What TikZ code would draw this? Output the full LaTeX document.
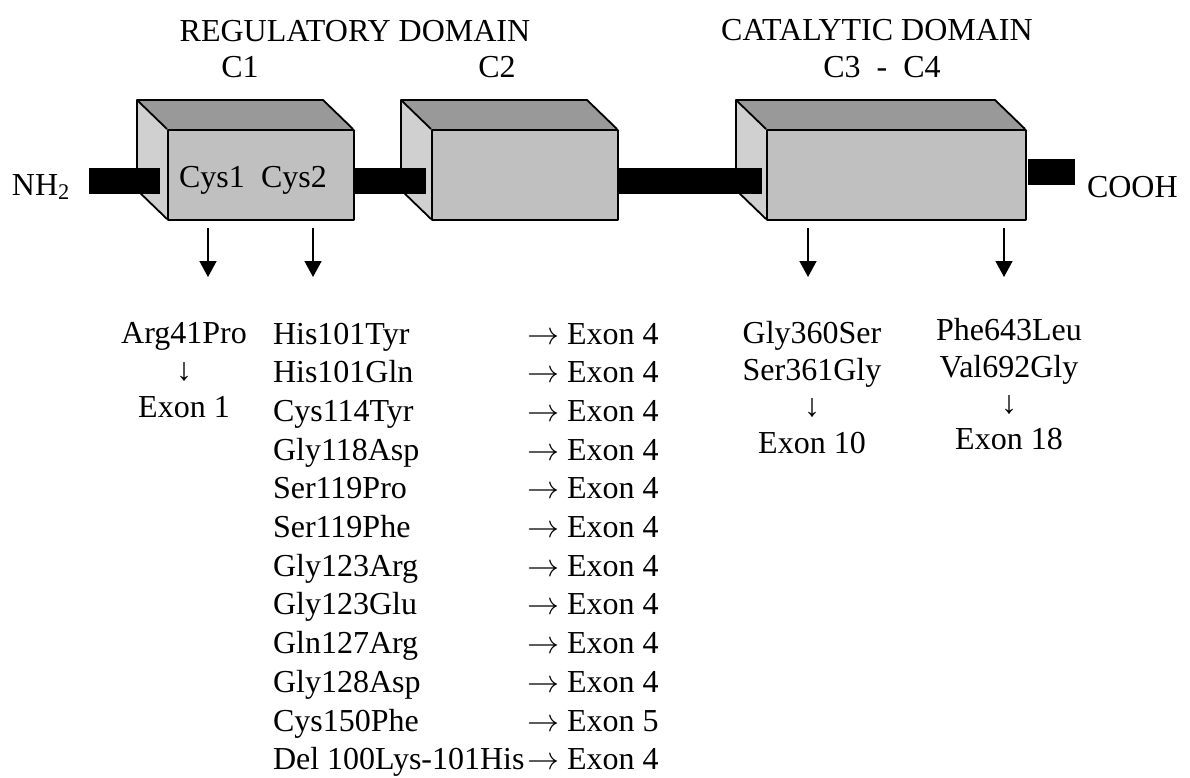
\RequirePackage{fix-cm}
\documentclass[tikz,border=0pt]{standalone}
\usepackage{fontspec}
\setmainfont{Liberation Serif}
\usetikzlibrary{arrows.meta}

\definecolor{topface}{RGB}{153,153,153}
\definecolor{sideface}{RGB}{208,208,208}
\definecolor{frontface}{RGB}{192,192,192}

\begin{document}
\begin{tikzpicture}[x=1pt,y=-1pt,
  lbl/.style={font=\fontsize{32}{38}\selectfont, inner sep=0pt, outer sep=0pt},
  face/.style={draw=black, line width=1.8pt, line join=round},
  front/.style={face, fill=frontface, rectangle, inner sep=0pt, anchor=north west},
  linker/.style={fill=black},
  ptr/.style={line width=1.6pt, -{Triangle[width=17pt,length=16pt]}}
]
\useasboundingbox (0,0) rectangle (1190,778);

% three domain blocks: top and left faces, then front face as a node
\foreach \nm/\xl/\xr in {c1/167/353, c2/431/617, c3/766/1025}{
  \fill[topface] (\xl-30,100) -- (\xr-30,100) -- (\xr,129) -- (\xl,129) -- cycle;
  \fill[sideface] (\xl-30,100) -- (\xl,129) -- (\xl,219) -- (\xl-30,190) -- cycle;
  \draw[face] (\xl,129) -- (\xl-30,100) -- (\xr-30,100) -- (\xr,129);
  \draw[face] (\xl-30,100) -- (\xl-30,190) -- (\xl,219);
  \node[front, minimum width=\xr pt-\xl pt, minimum height=90pt] (\nm) at (\xl,129) {};
}

% linker segments of the chain
\fill[linker] (89,168) rectangle (160,194);
\fill[linker] (354,168) rectangle (426,194);
\fill[linker] (618,168) rectangle (762,194);
\fill[linker] (1028,159) rectangle (1075,185);

% headings
\node[lbl, anchor=base] (reg) at (355,42) {REGULATORY DOMAIN};
\node[lbl, anchor=base] (cat) at (877,41) {CATALYTIC DOMAIN};
\node[lbl, anchor=base] (l1) at (240,78) {C1};
\node[lbl, anchor=base] (l2) at (497,78) {C2};
\node[lbl, anchor=base] (l3) at (882,78) {C3~~-~~C4};

% termini
\node[lbl, anchor=base west] (nterm) at (12,195) {NH\textsubscript{2}};
\node[lbl, anchor=base west] (cterm) at (1087,197) {COOH};

% cysteine-rich motifs
\node[lbl, anchor=base west] (cys1) at (179,187) {Cys1};
\node[lbl, anchor=base west] (cys2) at (261,187) {Cys2};

% pointers below the blocks
\foreach \k/\x in {1/208, 2/313, 3/808, 4/1004}{
  \coordinate (p\k s) at (\x,228);
  \coordinate (p\k e) at (\x,277);
  \draw[ptr] (p\k s) -- (p\k e);
}

% C1 mutation
\node[lbl, anchor=base] (m1a) at (184,343) {Arg41Pro};
\node[lbl, anchor=base] (m1b) at (184,380) {↓};
\node[lbl, anchor=base] (m1c) at (184,417) {Exon 1};

% C1 cysteine-region mutations with their exons
\foreach \i/\mut/\ex in {0/His101Tyr/4, 1/His101Gln/4, 2/Cys114Tyr/4, 3/Gly118Asp/4,
  4/Ser119Pro/4, 5/Ser119Phe/4, 6/Gly123Arg/4, 7/Gly123Glu/4, 8/Gln127Arg/4,
  9/Gly128Asp/4, 10/Cys150Phe/5, 11/Del 100Lys-101His/4}{
  \node[lbl, anchor=base west] (mut\i) at (273,344+38.7*\i) {\mut};
  \node[lbl, anchor=base west] (ex\i) at (527,344+38.7*\i) {$\rightarrow$ Exon \ex};
}

% catalytic domain mutations
\node[lbl, anchor=base] (m3a) at (812,343) {Gly360Ser};
\node[lbl, anchor=base] (m3b) at (812,380) {Ser361Gly};
\node[lbl, anchor=base] (m3c) at (812,416) {↓};
\node[lbl, anchor=base] (m3d) at (812,453) {Exon 10};

\node[lbl, anchor=base] (m4a) at (1009,340) {Phe643Leu};
\node[lbl, anchor=base] (m4b) at (1009,377) {Val692Gly};
\node[lbl, anchor=base] (m4c) at (1009,413) {↓};
\node[lbl, anchor=base] (m4d) at (1009,449) {Exon 18};
\end{tikzpicture}
\end{document}
